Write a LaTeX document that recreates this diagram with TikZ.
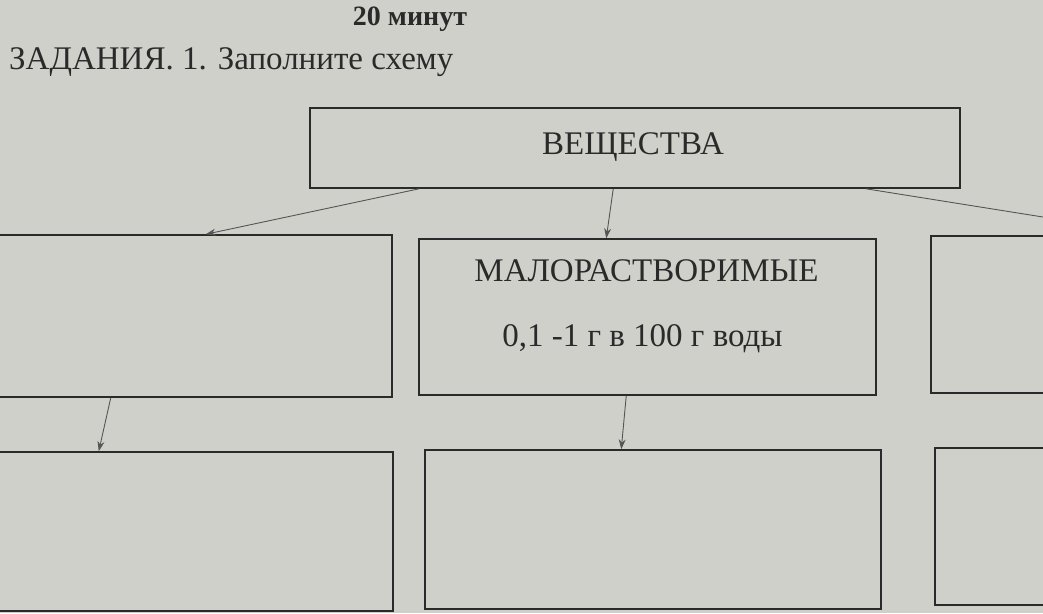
\documentclass[tikz,border=0pt]{standalone}
\usepackage{fontspec}
\setmainfont{Liberation Serif}
\usetikzlibrary{arrows.meta}
\definecolor{paper}{RGB}{208,208,203}
\definecolor{ink}{RGB}{42,42,42}
\tikzset{
  box/.style={draw=ink, line width=1.5pt, rectangle, inner sep=0pt},
  conn/.style={draw=ink!80, line width=0.9pt, -{Stealth[length=10pt,width=7pt]}},
  lbl/.style={text=ink, font=\fontsize{33}{38}\selectfont, inner sep=0pt},
}
\begin{document}
\begin{tikzpicture}[x=1pt,y=-1pt]
\useasboundingbox[fill=paper] (0,0) rectangle (1043,613);
% header texts
\node[lbl, anchor=base, font=\fontsize{28}{32}\selectfont\bfseries] (time) at (410,25) {20 минут};
\node[lbl, anchor=base west] (task) at (9,69) {ЗАДАНИЯ. 1. Заполните схему};
% boxes
\node[box, minimum width=650pt, minimum height=80pt] (top) at (635,148) {};
\node[lbl, anchor=base] (topT) at (633,154) {ВЕЩЕСТВА};
\node[box, minimum width=432pt, minimum height=162pt] (l1) at (176,316) {};
\node[box, minimum width=457pt, minimum height=156pt] (m1) at (647.5,317) {};
\node[box, minimum width=459pt, minimum height=157pt] (r1) at (1160.5,314.5) {};
\node[box, minimum width=433pt, minimum height=159pt] (l2) at (176.5,531.5) {};
\node[box, minimum width=456pt, minimum height=159pt] (m2) at (653,529.5) {};
\node[box, minimum width=455pt, minimum height=157pt] (r2) at (1162.5,526.5) {};
\node[lbl, anchor=base] (m1a) at (646.5,281) {МАЛОРАСТВОРИМЫЕ};
\node[lbl, anchor=base] (m1b) at (642.5,346) {0,1 -1 г в 100 г воды};
% connectors
\draw[conn] ([xshift=110pt]top.south west) -- ([xshift=-187pt]l1.north east);
\draw[conn] ([xshift=304pt]top.south west) -- ([xshift=188pt]m1.north west);
\draw[conn] ([xshift=-95pt]top.south east) -- ([xshift=227pt]r1.north west);
\draw[conn] ([xshift=-282pt]l1.south east) -- ([xshift=-295pt]l2.north east);
\draw[conn] ([xshift=208pt]m1.south west) -- ([xshift=197pt]m2.north west);
\end{tikzpicture}
\end{document}
